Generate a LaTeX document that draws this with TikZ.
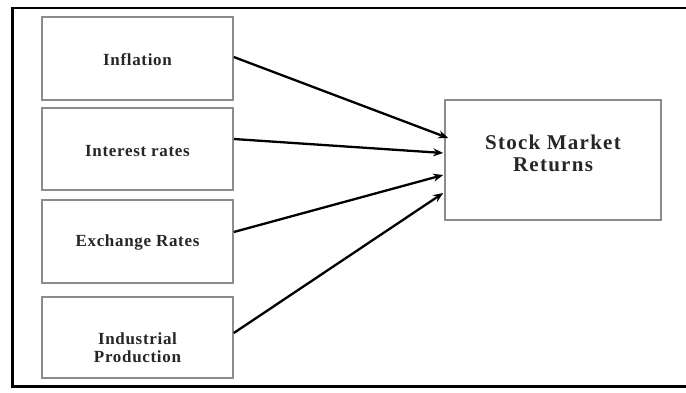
\documentclass[tikz,border=0pt]{standalone}
\usepackage{fontspec}
\setmainfont{Liberation Serif}
\usetikzlibrary{arrows.meta,calc}
\tikzset{
  factor/.style={draw=black!45, line width=1.6pt, minimum width=191pt, inner sep=0pt},
  lbl/.style={font=\bfseries\fontsize{17}{18}\selectfont\addfontfeatures{LetterSpace=4}, align=center, inner sep=0pt, text=black!85},
  link/.style={draw=black, line width=2.3pt, -{Stealth[length=10pt,width=8pt]}},
  frame/.style={draw=black, line cap=rect}
}
\begin{document}
\begin{tikzpicture}[x=1pt,y=-1pt]
\useasboundingbox (0,0) rectangle (686,392);
\coordinate (ftl) at (12,8);
\coordinate (ftr) at (686,8);
\coordinate (fbl) at (12,386);
\coordinate (fbr) at (686,386);
\draw[frame, line width=2.2pt] (ftl) -- (ftr);
\draw[frame, line width=3pt] (ftl) -- (fbl) -- (fbr);

\node[factor, minimum height=83pt] (inf) at (137.5,58.5) {};
\node[factor, minimum height=82pt] (int) at (137.5,149) {};
\node[factor, minimum height=83pt] (exc) at (137.5,241.5) {};
\node[factor, minimum height=81pt] (ind) at (137.5,337.5) {};
\node[draw=black!45, line width=1.6pt, minimum width=216pt, minimum height=120pt] (smr) at (553,160) {};

\node[lbl] (tinf) at ($(inf.center)+(0,1)$) {Inflation};
\node[lbl] (tint) at ($(int.center)+(0,2)$) {Interest rates};
\node[lbl] (texc) at ($(exc.center)+(0,1)$) {Exchange Rates};
\node[lbl] (tind) at ($(ind.center)+(0,10)$) {Industrial\\Production};
\node[lbl, font=\bfseries\fontsize{21}{22}\selectfont\addfontfeatures{LetterSpace=6}] (tsmr) at ($(smr.center)+(0,-7)$) {Stock Market\\Returns};

\draw[link] ($(inf.east)+(0,-1.5)$) -- ($(smr.west)+(4,-22)$);
\draw[link] ($(int.east)+(0,-10)$) -- ($(smr.west)+(-1,-7)$);
\draw[link] ($(exc.east)+(0,-9.5)$) -- ($(smr.west)+(-1,15)$);
\draw[link] ($(ind.east)+(0,-4.5)$) -- ($(smr.west)+(-1,33)$);
\end{tikzpicture}
\end{document}
